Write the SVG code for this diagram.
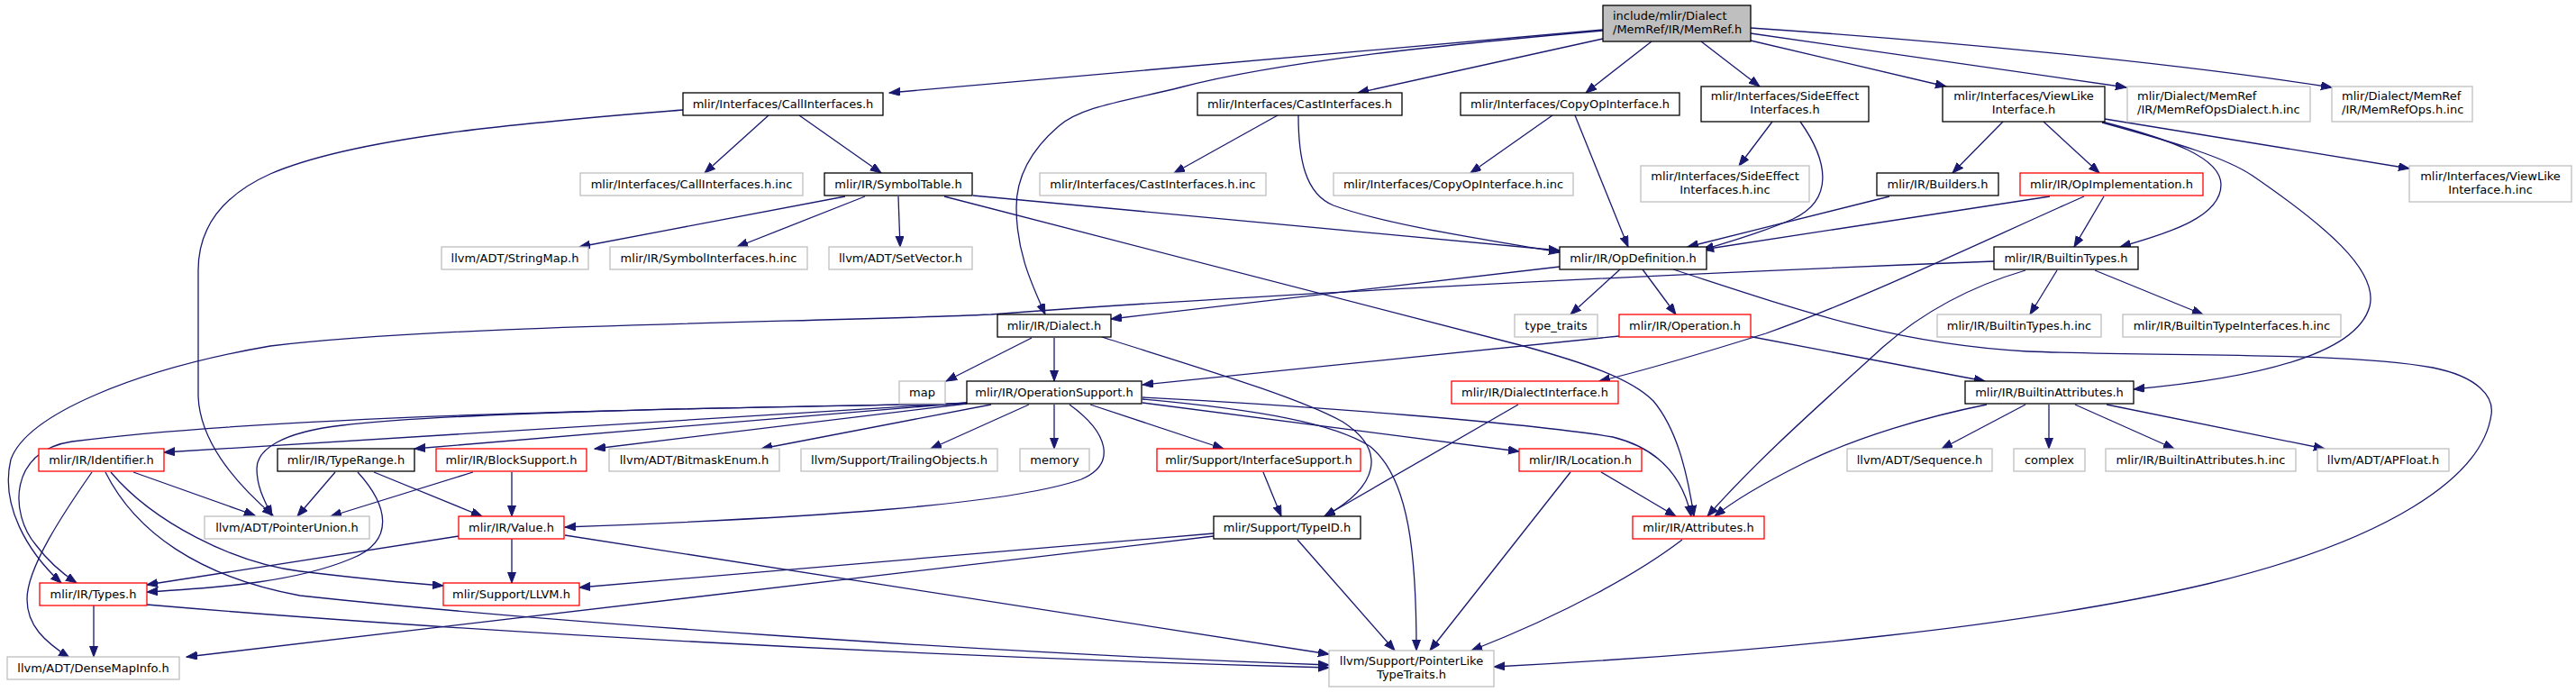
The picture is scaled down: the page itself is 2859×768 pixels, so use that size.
<svg xmlns="http://www.w3.org/2000/svg" width="2859" height="768" viewBox="0 0 2859 768">
<style>
.b rect{fill:#fff;stroke:#000;stroke-width:1.3}
.g rect{fill:#fff;stroke:#bfbfbf;stroke-width:1.3}
.r rect{fill:#fff;stroke:#f00;stroke-width:1.3}
.root rect{fill:#bfbfbf;stroke:#000;stroke-width:1.3}
text{font-family:"DejaVu Sans",sans-serif;font-size:13px;fill:#000;text-anchor:middle}
text.l{text-anchor:start}
#edges path{fill:none;stroke:#191970;stroke-width:1.3;marker-end:url(#ah)}
</style>
<defs>
<marker id="ah" markerUnits="userSpaceOnUse" markerWidth="13" markerHeight="10" refX="12" refY="4.5" orient="auto">
<path d="M0,0 L12,4.5 L0,9 z" fill="#191970" stroke="#191970" stroke-width="1"/>
</marker>
</defs>
<rect width="2859" height="768" fill="#fff"/>
<g id="edges">
<path d="M1779,33 L987,103"/>
<path d="M1779,43 L1507,103"/>
<path d="M1833,46 L1760,103"/>
<path d="M1888,46 L1953,96"/>
<path d="M1943,45 L2160,96"/>
<path d="M1943,37 L2360,97"/>
<path d="M1943,31 C2150,45 2400,68 2588,97"/>
<path d="M1779,34 C1600,50 1420,68 1310,97 C1250,112 1200,118 1175,140 C1140,170 1128,200 1128,230 C1128,280 1145,315 1160,349"/>
<path d="M853,128 L782,192"/>
<path d="M887,128 L978,192"/>
<path d="M758,122 C600,135 400,150 300,193 C240,220 220,260 220,300 L220,440 C222,490 260,535 303,572"/>
<path d="M938,218 L643,274"/>
<path d="M960,218 L818,274"/>
<path d="M997,218 L999,274"/>
<path d="M1080,217 L1731,278"/>
<path d="M1048,218 L1687,383 C1760,403 1810,420 1835,445 C1860,475 1872,520 1880,573"/>
<path d="M1418,128 L1303,192"/>
<path d="M1441,128 C1441,175 1448,215 1480,228 C1540,250 1650,266 1731,280"/>
<path d="M1723,128 L1632,192"/>
<path d="M1748,128 L1807,274"/>
<path d="M1967,135 L1930,184"/>
<path d="M1998,135 C2030,180 2035,222 1990,243 C1960,256 1925,267 1890,277"/>
<path d="M2223,135 L2167,192"/>
<path d="M2268,135 L2330,192"/>
<path d="M2336,132 L2674,187"/>
<path d="M2333,135 C2410,155 2465,175 2465,205 C2465,240 2410,258 2353,274"/>
<path d="M2333,136 C2420,160 2470,175 2500,195 C2580,250 2640,300 2630,340 C2615,395 2500,420 2368,432"/>
<path d="M2097,218 L1873,274"/>
<path d="M2275,218 L1890,277"/>
<path d="M2335,218 L2302,274"/>
<path d="M2313,218 C2200,268 2060,335 1960,370 C1880,395 1830,410 1775,423"/>
<path d="M1798,299 L1743,349"/>
<path d="M1823,299 L1860,349"/>
<path d="M1731,296 L1233,354"/>
<path d="M1857,299 C1990,342 2100,382 2250,390 C2400,396 2600,390 2700,408 C2750,418 2768,440 2765,460 C2755,530 2650,600 2450,648 C2250,695 1950,725 1658,740"/>
<path d="M2283,300 L2253,349"/>
<path d="M2325,300 L2445,349"/>
<path d="M2213,290 C1900,302 1400,326 1100,349 C900,358 500,360 300,384 C150,410 30,460 12,510 C0,560 30,612 68,647"/>
<path d="M2248,300 C2180,320 2130,350 2090,385 C2030,440 1950,510 1895,573"/>
<path d="M1145,375 L1050,423"/>
<path d="M1170,375 L1170,423"/>
<path d="M1223,374 C1320,405 1440,440 1490,468 C1540,500 1530,540 1470,573"/>
<path d="M1073,447 L182,502"/>
<path d="M1073,447 L460,498"/>
<path d="M1073,448 C700,454 300,462 80,490 C10,500 10,570 40,605 C55,625 70,637 85,647"/>
<path d="M1073,448 C800,452 500,458 380,472 C310,480 285,500 285,520 C285,540 293,555 302,573"/>
<path d="M1073,448 L660,498"/>
<path d="M1100,449 L845,498"/>
<path d="M1142,449 L1033,498"/>
<path d="M1170,449 L1170,498"/>
<path d="M1187,449 C1230,480 1240,515 1200,532 C1120,560 900,575 627,585"/>
<path d="M1210,449 L1358,498"/>
<path d="M1268,447 L1686,501"/>
<path d="M1268,441 C1450,450 1700,470 1790,485 C1850,500 1870,540 1877,573"/>
<path d="M1268,443 C1400,455 1480,470 1520,495 C1565,530 1572,620 1572,722"/>
<path d="M1797,373 L1268,427"/>
<path d="M1940,373 L2203,423"/>
<path d="M1402,524 L1422,573"/>
<path d="M1685,449 L1470,573"/>
<path d="M1743,524 L1587,722"/>
<path d="M1777,524 L1860,573"/>
<path d="M1867,599 C1820,635 1740,680 1633,722"/>
<path d="M1440,599 L1548,722"/>
<path d="M1347,592 L643,652"/>
<path d="M1347,595 L207,729"/>
<path d="M104,672 L104,729"/>
<path d="M163,671 C500,700 1000,728 1475,741"/>
<path d="M117,524 C150,590 220,640 333,661 C600,690 1100,725 1475,738"/>
<path d="M123,524 C170,580 260,625 333,634 C400,642 450,647 492,650"/>
<path d="M148,524 L283,572"/>
<path d="M102,524 C70,570 30,630 30,665 C30,695 50,712 77,730"/>
<path d="M372,524 L330,573"/>
<path d="M397,524 C430,560 440,600 390,620 C330,645 250,652 163,657"/>
<path d="M415,524 L535,573"/>
<path d="M525,524 L367,573"/>
<path d="M568,524 L568,573"/>
<path d="M509,595 L163,649"/>
<path d="M568,598 L568,647"/>
<path d="M627,594 L1475,726"/>
<path d="M2205,449 C2140,462 2060,485 2000,515 C1960,535 1925,555 1903,573"/>
<path d="M2248,449 L2155,498"/>
<path d="M2274,449 L2274,498"/>
<path d="M2303,449 L2413,498"/>
<path d="M2338,449 L2580,498"/>
</g>
<g id="root" class="root"><rect x="1779" y="6" width="164" height="40"/><text class="l" x="1790" y="21.5">include/mlir/Dialect</text><text class="l" x="1790" y="36.5">/MemRef/IR/MemRef.h</text></g>
<g id="n_call" class="b"><rect x="758" y="103" width="222" height="25"/><text x="869" y="119.5">mlir/Interfaces/CallInterfaces.h</text></g>
<g id="n_cast" class="b"><rect x="1329" y="103" width="227" height="25"/><text x="1442.5" y="119.5">mlir/Interfaces/CastInterfaces.h</text></g>
<g id="n_copy" class="b"><rect x="1621" y="103" width="243" height="25"/><text x="1742.5" y="119.5">mlir/Interfaces/CopyOpInterface.h</text></g>
<g id="n_side" class="b"><rect x="1888" y="96" width="186" height="39"/><text x="1981" y="111">mlir/Interfaces/SideEffect</text><text x="1981" y="126">Interfaces.h</text></g>
<g id="n_view" class="b"><rect x="2156" y="96" width="180" height="39"/><text x="2246" y="111">mlir/Interfaces/ViewLike</text><text x="2246" y="126">Interface.h</text></g>
<g id="n_mrd" class="g"><rect x="2361" y="96" width="203" height="39"/><text class="l" x="2372" y="111">mlir/Dialect/MemRef</text><text class="l" x="2372" y="126">/IR/MemRefOpsDialect.h.inc</text></g>
<g id="n_mro" class="g"><rect x="2588" y="96" width="156" height="39"/><text class="l" x="2599" y="111">mlir/Dialect/MemRef</text><text class="l" x="2599" y="126">/IR/MemRefOps.h.inc</text></g>
<g id="n_callinc" class="g"><rect x="644" y="192" width="247" height="25"/><text x="767.5" y="208.5">mlir/Interfaces/CallInterfaces.h.inc</text></g>
<g id="n_symtab" class="b"><rect x="915" y="192" width="164" height="25"/><text x="997" y="208.5">mlir/IR/SymbolTable.h</text></g>
<g id="n_castinc" class="g"><rect x="1154" y="192" width="251" height="25"/><text x="1279.5" y="208.5">mlir/Interfaces/CastInterfaces.h.inc</text></g>
<g id="n_copyinc" class="g"><rect x="1480" y="192" width="266" height="25"/><text x="1613" y="208.5">mlir/Interfaces/CopyOpInterface.h.inc</text></g>
<g id="n_sideinc" class="g"><rect x="1821" y="184" width="187" height="40"/><text x="1914.5" y="199.5">mlir/Interfaces/SideEffect</text><text x="1914.5" y="214.5">Interfaces.h.inc</text></g>
<g id="n_builders" class="b"><rect x="2083" y="192" width="135" height="25"/><text x="2150.5" y="208.5">mlir/IR/Builders.h</text></g>
<g id="n_opimpl" class="r"><rect x="2242" y="192" width="203" height="25"/><text x="2343.5" y="208.5">mlir/IR/OpImplementation.h</text></g>
<g id="n_viewinc" class="g"><rect x="2674" y="184" width="180" height="40"/><text x="2764" y="199.5">mlir/Interfaces/ViewLike</text><text x="2764" y="214.5">Interface.h.inc</text></g>
<g id="n_stringmap" class="g"><rect x="490" y="274" width="163" height="25"/><text x="571.5" y="290.5">llvm/ADT/StringMap.h</text></g>
<g id="n_symint" class="g"><rect x="677" y="274" width="219" height="25"/><text x="786.5" y="290.5">mlir/IR/SymbolInterfaces.h.inc</text></g>
<g id="n_setvec" class="g"><rect x="920" y="274" width="159" height="25"/><text x="999.5" y="290.5">llvm/ADT/SetVector.h</text></g>
<g id="n_opdef" class="b"><rect x="1731" y="274" width="163" height="25"/><text x="1812.5" y="290.5">mlir/IR/OpDefinition.h</text></g>
<g id="n_btypes" class="b"><rect x="2213" y="274" width="160" height="25"/><text x="2293" y="290.5">mlir/IR/BuiltinTypes.h</text></g>
<g id="n_dialect" class="b"><rect x="1107" y="349" width="126" height="25"/><text x="1170" y="365.5">mlir/IR/Dialect.h</text></g>
<g id="n_typetraits" class="g"><rect x="1681" y="349" width="92" height="25"/><text x="1727" y="365.5">type_traits</text></g>
<g id="n_operation" class="r"><rect x="1797" y="349" width="146" height="25"/><text x="1870" y="365.5">mlir/IR/Operation.h</text></g>
<g id="n_btypesinc" class="g"><rect x="2150" y="349" width="182" height="25"/><text x="2241" y="365.5">mlir/IR/BuiltinTypes.h.inc</text></g>
<g id="n_btypeint" class="g"><rect x="2356" y="349" width="242" height="25"/><text x="2477" y="365.5">mlir/IR/BuiltinTypeInterfaces.h.inc</text></g>
<g id="n_map" class="g"><rect x="998" y="423" width="51" height="25"/><text x="1023.5" y="439.5">map</text></g>
<g id="n_opsupport" class="b"><rect x="1073" y="423" width="194" height="25"/><text x="1170" y="439.5">mlir/IR/OperationSupport.h</text></g>
<g id="n_dialectint" class="r"><rect x="1611" y="423" width="185" height="25"/><text x="1703.5" y="439.5">mlir/IR/DialectInterface.h</text></g>
<g id="n_battrs" class="b"><rect x="2181" y="423" width="187" height="25"/><text x="2274.5" y="439.5">mlir/IR/BuiltinAttributes.h</text></g>
<g id="n_identifier" class="r"><rect x="43" y="498" width="139" height="25"/><text x="112.5" y="514.5">mlir/IR/Identifier.h</text></g>
<g id="n_typerange" class="b"><rect x="308" y="498" width="152" height="25"/><text x="384" y="514.5">mlir/IR/TypeRange.h</text></g>
<g id="n_blocksupport" class="r"><rect x="484" y="498" width="167" height="25"/><text x="567.5" y="514.5">mlir/IR/BlockSupport.h</text></g>
<g id="n_bitmask" class="g"><rect x="676" y="498" width="189" height="25"/><text x="770.5" y="514.5">llvm/ADT/BitmaskEnum.h</text></g>
<g id="n_trailing" class="g"><rect x="889" y="498" width="218" height="25"/><text x="998" y="514.5">llvm/Support/TrailingObjects.h</text></g>
<g id="n_memory" class="g"><rect x="1132" y="498" width="77" height="25"/><text x="1170.5" y="514.5">memory</text></g>
<g id="n_ifsupport" class="r"><rect x="1284" y="498" width="226" height="25"/><text x="1397" y="514.5">mlir/Support/InterfaceSupport.h</text></g>
<g id="n_location" class="r"><rect x="1686" y="498" width="136" height="25"/><text x="1754" y="514.5">mlir/IR/Location.h</text></g>
<g id="n_sequence" class="g"><rect x="2050" y="498" width="161" height="25"/><text x="2130.5" y="514.5">llvm/ADT/Sequence.h</text></g>
<g id="n_complex" class="g"><rect x="2235" y="498" width="79" height="25"/><text x="2274.5" y="514.5">complex</text></g>
<g id="n_battrsinc" class="g"><rect x="2337" y="498" width="211" height="25"/><text x="2442.5" y="514.5">mlir/IR/BuiltinAttributes.h.inc</text></g>
<g id="n_apfloat" class="g"><rect x="2572" y="498" width="146" height="25"/><text x="2645" y="514.5">llvm/ADT/APFloat.h</text></g>
<g id="n_ptrunion" class="g"><rect x="227" y="573" width="183" height="25"/><text x="318.5" y="589.5">llvm/ADT/PointerUnion.h</text></g>
<g id="n_value" class="r"><rect x="509" y="573" width="117" height="25"/><text x="567.5" y="589.5">mlir/IR/Value.h</text></g>
<g id="n_typeid" class="b"><rect x="1347" y="573" width="163" height="25"/><text x="1428.5" y="589.5">mlir/Support/TypeID.h</text></g>
<g id="n_attrs" class="r"><rect x="1812" y="573" width="146" height="25"/><text x="1885" y="589.5">mlir/IR/Attributes.h</text></g>
<g id="n_types" class="r"><rect x="44" y="647" width="119" height="25"/><text x="103.5" y="663.5">mlir/IR/Types.h</text></g>
<g id="n_llvm" class="r"><rect x="492" y="647" width="151" height="25"/><text x="567.5" y="663.5">mlir/Support/LLVM.h</text></g>
<g id="n_densemap" class="g"><rect x="8" y="729" width="191" height="25"/><text x="103.5" y="745.5">llvm/ADT/DenseMapInfo.h</text></g>
<g id="n_ptrlike" class="g"><rect x="1475" y="722" width="183" height="40"/><text x="1566.5" y="737.5">llvm/Support/PointerLike</text><text x="1566.5" y="752.5">TypeTraits.h</text></g>
</svg>
